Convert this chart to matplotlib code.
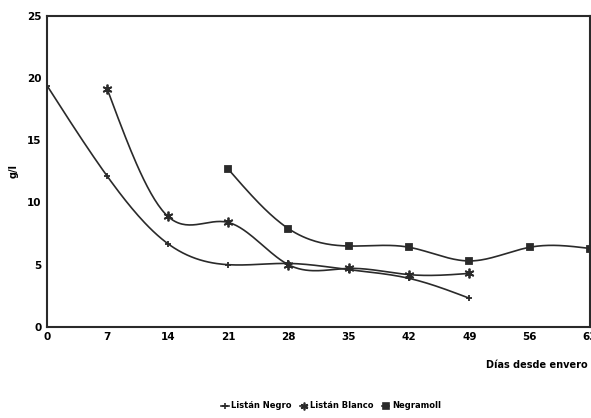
import numpy as np
import matplotlib.pyplot as plt

# data (days since veraison, g/l)
negro_x = [0, 7, 14, 21, 28, 35, 42, 49]
negro_y = [19.4, 12.1, 6.7, 5.0, 5.1, 4.6, 3.9, 2.3]

blanco_x = [7, 14, 21, 28, 35, 42, 49]
blanco_y = [19.1, 8.9, 8.4, 5.0, 4.7, 4.2, 4.3]

negramoll_x = [21, 28, 35, 42, 49, 56, 63]
negramoll_y = [12.7, 7.9, 6.5, 6.4, 5.3, 6.4, 6.3]

xticks = [0, 7, 14, 21, 28, 35, 42, 49, 56, 63]
yticks = [0, 5, 10, 15, 20, 25]


def smooth(x, y, n=200):
    # natural cubic spline, only for drawing the curve between the points
    x = np.asarray(x, float)
    y = np.asarray(y, float)
    k = len(x)
    h = np.diff(x)
    A = np.zeros((k, k))
    b = np.zeros(k)
    A[0, 0] = A[-1, -1] = 1
    for i in range(1, k - 1):
        A[i, i - 1] = h[i - 1]
        A[i, i] = 2 * (h[i - 1] + h[i])
        A[i, i + 1] = h[i]
        b[i] = 6 * ((y[i + 1] - y[i]) / h[i] - (y[i] - y[i - 1]) / h[i - 1])
    m = np.linalg.solve(A, b)
    xs = np.linspace(x[0], x[-1], n)
    idx = np.clip(np.searchsorted(x, xs) - 1, 0, k - 2)
    x0, x1 = x[idx], x[idx + 1]
    hh = x1 - x0
    t0, t1 = x1 - xs, xs - x0
    ys = (m[idx] * t0**3 + m[idx + 1] * t1**3) / (6 * hh) \
        + (y[idx] / hh - m[idx] * hh / 6) * t0 \
        + (y[idx + 1] / hh - m[idx + 1] * hh / 6) * t1
    return xs, ys


plt.rcParams['font.family'] = ['DejaVu Sans']
plt.rcParams['font.weight'] = 'bold'

fig = plt.figure(figsize=(5.91, 4.18), dpi=100)
ax = fig.add_axes([0.0795, 0.218, 0.919, 0.744])

col = '#2a2a2a'
for x, y, mk, ms, lab in [(negro_x, negro_y, '+', 5, 'Listán Negro'),
                          (blanco_x, blanco_y, (6, 2, 0), 7, 'Listán Blanco'),
                          (negramoll_x, negramoll_y, 's', 5, 'Negramoll')]:
    xs, ys = smooth(x, y)
    ax.plot(xs, ys, color=col, lw=1.2)
    ax.plot(x, y, linestyle='none', marker=mk, ms=ms, color=col, mew=1.3)
    ax.plot([], [], color=col, lw=1.2, marker=mk, ms=ms * 0.8, mew=1.2, label=lab)

ax.set_xlim(0, 63)
ax.set_ylim(0, 25)
ax.set_xticks(xticks)
ax.set_yticks(yticks)
ax.tick_params(length=0, labelsize=7.5, pad=4)
for s in ax.spines.values():
    s.set_color(col)
    s.set_linewidth(1.5)

ax.set_ylabel('g/l', fontsize=7, fontweight='bold', labelpad=6)
fig.text(0.995, 0.12, 'Días desde envero', ha='right', fontsize=7, fontweight='bold')

fig.legend(loc='lower center', bbox_to_anchor=(0.56, 0.0), ncol=3, frameon=False,
           fontsize=6, handlelength=0.9, handletextpad=0.3, columnspacing=1.0)

fig.savefig('out.png', dpi=100)
